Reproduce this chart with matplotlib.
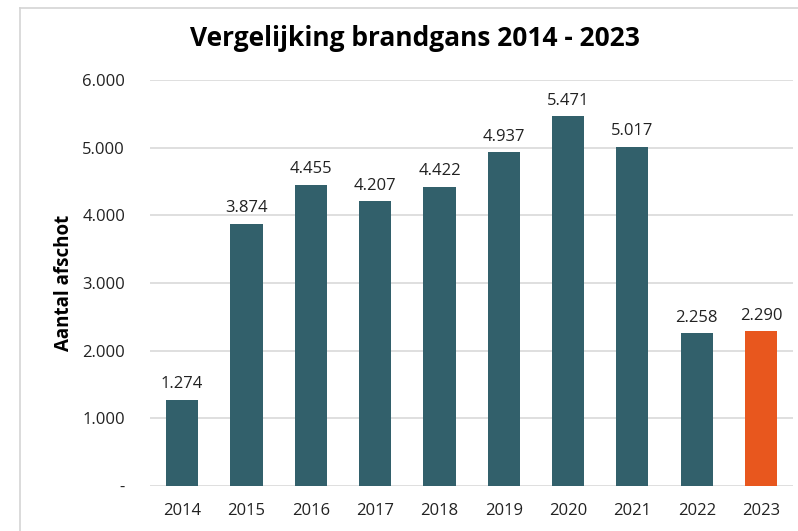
import numpy as np
import matplotlib.pyplot as plt
from matplotlib.lines import Line2D
from matplotlib.ticker import FuncFormatter

years = ['2014', '2015', '2016', '2017', '2018', '2019', '2020', '2021', '2022', '2023']
afschot = [1274, 3874, 4455, 4207, 4422, 4937, 5471, 5017, 2258, 2290]
colors = ['#32606B'] * 9 + ['#E8571E']

plt.rcParams['font.family'] = ['Open Sans', 'DejaVu Sans']

fig = plt.figure(figsize=(7.98, 5.31), dpi=100)
ax = fig.add_axes([0.188, 0.085, 0.806, 0.764])

x = np.arange(len(years))
ax.bar(x, afschot, width=0.5, color=colors, zorder=3)
for xi, v in zip(x, afschot):
    ax.text(xi, v + 110, f'{v:,}'.replace(',', '.'), ha='center', va='bottom',
            fontsize=12, color='#222222')

ax.set_xlim(-0.5, 9.5)
ax.set_ylim(0, 6000)
ax.set_yticks(np.arange(0, 6001, 1000))
ax.yaxis.set_major_formatter(FuncFormatter(
    lambda v, p: '-' if v == 0 else f'{int(v):,}'.replace(',', '.')))
ax.set_xticks(x)
ax.set_xticklabels(years)
ax.tick_params(axis='both', length=0, labelsize=12, colors='#222222')
ax.tick_params(axis='y', pad=18)
ax.tick_params(axis='x', pad=12)
ax.grid(axis='y', color='#D9D9D9', linewidth=1.2, zorder=0)
for s in ax.spines.values():
    s.set_visible(False)

ax.set_ylabel('Aantal afschot', fontsize=13.5, fontweight='bold', labelpad=6)
fig.text(0.52, 0.928, 'Vergelijking brandgans 2014 - 2023', ha='center', va='center',
         fontsize=19, fontweight='bold')

# frame of the original figure box
fig.add_artist(Line2D([0.025, 0.025], [0, 0.985], color='#D4D4D4', linewidth=1.2))
fig.add_artist(Line2D([0.025, 1.0], [0.985, 0.985], color='#D4D4D4', linewidth=1.2))

fig.savefig('out.png', dpi=100)
